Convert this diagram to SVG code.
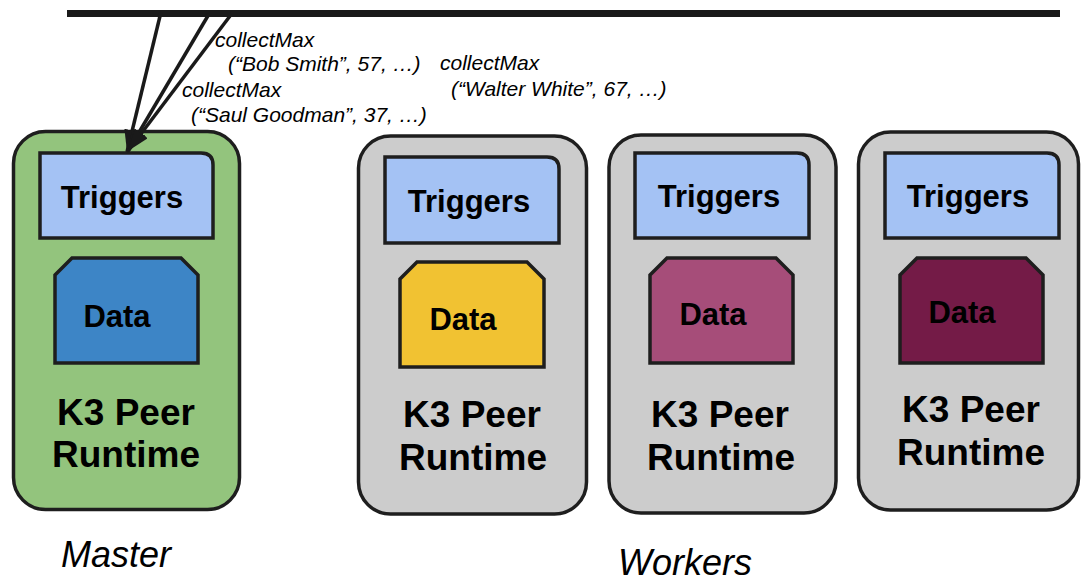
<svg xmlns="http://www.w3.org/2000/svg" width="1081" height="581" viewBox="0 0 1081 581">
  <style>
    .peer { stroke: #1e1e1e; stroke-width: 3.5; }
    .master { fill: #93c47d; }
    .worker { fill: #cccccc; }
    .trig { fill: #a4c2f4; stroke: #1e1e1e; stroke-width: 3.5; }
    .data { stroke: #1e1e1e; stroke-width: 3.5; }
    .lbl { font-family: "Liberation Sans", Arial, sans-serif; font-weight: bold; fill: #000; text-anchor: middle; }
    .t31 { font-size: 31px; }
    .t37 { font-size: 37px; }
    .msg { font-family: "Liberation Sans", Arial, sans-serif; font-style: italic; font-size: 21px; fill: #000; }
    .role { font-family: "Liberation Sans", Arial, sans-serif; font-style: italic; font-size: 36px; fill: #000; }
    .wire { stroke: #1a1a1a; stroke-width: 3.5; fill: none; marker-end: url(#head); }
  </style>
  <defs>
    <marker id="head" markerUnits="userSpaceOnUse" markerWidth="24" markerHeight="18" refX="22" refY="8" orient="auto">
      <path d="M0,0 L22,8 L0,16 z" fill="#1a1a1a"/>
    </marker>
  </defs>
  <rect width="1081" height="581" fill="#ffffff"/>

  <!-- shared bus -->
  <g id="bus">
    <rect x="67" y="10" width="993" height="7" fill="#1a1a1a"/>
  </g>

  <!-- master peer -->
  <g id="master">
    <rect class="peer master" x="13.5" y="131.5" width="226" height="378" rx="32"/>
    <path class="trig" d="M40,153 H201 Q213,153 213,165 V238 H40 Z"/>
    <path class="data" fill="#3d85c6" d="M72,258 H181 L198,275 V363 H55 V275 Z"/>
    <text class="lbl t31" x="122" y="208">Triggers</text>
    <text class="lbl t31" x="117" y="327">Data</text>
    <text class="lbl t37" x="126" y="425">K3 Peer</text>
    <text class="lbl t37" x="126" y="467">Runtime</text>
  </g>

  <!-- worker peers -->
  <g id="worker1">
    <rect class="peer worker" x="358.5" y="136" width="228" height="378" rx="32"/>
    <path class="trig" d="M385,157 H547 Q559,157 559,169 V243 H385 Z"/>
    <path class="data" fill="#f1c232" d="M417,262 H527 L544,279 V367 H400 V279 Z"/>
    <text class="lbl t31" x="469" y="212">Triggers</text>
    <text class="lbl t31" x="463" y="330">Data</text>
    <text class="lbl t37" x="472" y="427">K3 Peer</text>
    <text class="lbl t37" x="473" y="470">Runtime</text>
  </g>

  <g id="worker2">
    <rect class="peer worker" x="609" y="135" width="227" height="378" rx="32"/>
    <path class="trig" d="M635,153 H797 Q809,153 809,165 V238 H635 Z"/>
    <path class="data" fill="#a64d79" d="M667,258 H776 L793,275 V363 H650 V275 Z"/>
    <text class="lbl t31" x="719" y="207">Triggers</text>
    <text class="lbl t31" x="713" y="325">Data</text>
    <text class="lbl t37" x="720" y="427">K3 Peer</text>
    <text class="lbl t37" x="721" y="470">Runtime</text>
  </g>

  <g id="worker3">
    <rect class="peer worker" x="858.5" y="132" width="220" height="378" rx="32"/>
    <path class="trig" d="M885,153 H1047 Q1059,153 1059,165 V238 H885 Z"/>
    <path class="data" fill="#741b47" d="M917,258 H1026 L1043,275 V363 H900 V275 Z"/>
    <text class="lbl t31" x="968" y="207">Triggers</text>
    <text class="lbl t31" x="962" y="323">Data</text>
    <text class="lbl t37" x="971" y="422">K3 Peer</text>
    <text class="lbl t37" x="971" y="465">Runtime</text>
  </g>

  <!-- messages from the bus into the master's triggers -->
  <g id="connectors">
    <line class="wire" x1="161" y1="12" x2="127" y2="152"/>
    <line class="wire" x1="209" y1="14" x2="128" y2="151"/>
    <line class="wire" x1="233" y1="12" x2="128" y2="151"/>
  </g>

  <g id="message-labels">
    <text class="msg" x="215" y="47">collectMax</text>
    <text class="msg" x="228" y="71">(“Bob Smith”, 57, …)</text>
    <text class="msg" x="440" y="70">collectMax</text>
    <text class="msg" x="451" y="96">(“Walter White”, 67, …)</text>
    <text class="msg" x="182" y="97">collectMax</text>
    <text class="msg" x="191" y="122">(“Saul Goodman”, 37, …)</text>
  </g>

  <g id="roles">
    <text class="role" x="61" y="567">Master</text>
    <text class="role" x="618" y="575">Workers</text>
  </g>
</svg>
